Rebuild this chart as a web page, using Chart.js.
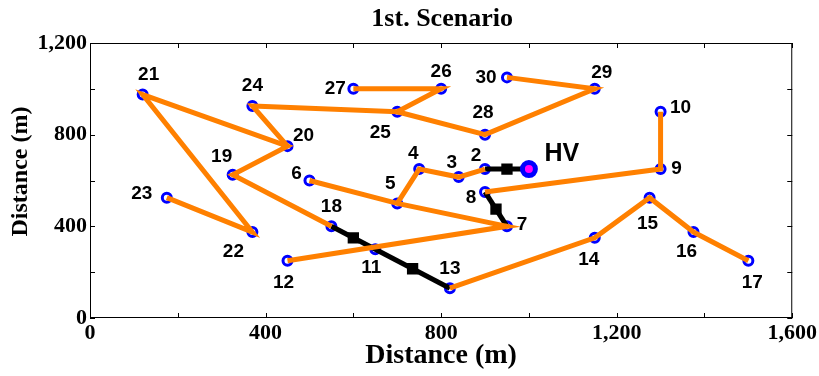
<!DOCTYPE html>
<html><head><meta charset="utf-8">
<script src="https://cdn.jsdelivr.net/npm/chart.js@4.4.0/dist/chart.umd.min.js"></script>
<style>html,body{margin:0;padding:0;background:#fff}canvas{display:block}</style>
</head><body>
<canvas id="c" width="819" height="376"></canvas>
<script>
// ---- data ----
const nodeNames = ['HV','2','3','4','5','6','7','8','9','10','11','12','13','14','15','16','17','18','19','20','21','22','23','24','25','26','27','28','29','30'];
const nodeX = [1000,900,840,750,700,500,950,900,1300,1300,650,450,820,1150,1275,1375,1500,550,325,450,120,370,175,370,700,800,600,900,1150,950];
const nodeY = [650,650,615,650,500,600,400,550,650,900,300,250,130,350,525,375,250,400,625,750,975,375,525,925,900,1000,1000,800,1000,1050];
const orangeRoutes = [
  ['2','3','4','5'],
  ['6','5','7','12'],
  ['8','9','10'],
  ['13','14','15','16','17'],
  ['18','19','20','21','22','23'],
  ['20','24','25','26','27'],
  ['25','28','29','30']
];
const blackRoutes = [['HV','2'],['8','7'],['18','11','13']];
const squareX = [950,925,600,735];
const squareY = [650,475,350,215];
const xTickLabels = [0,400,800,1200,1600];
const yTickLabels = [0,400,800,1200];
const titleText = '1st. Scenario';
const xTitle = 'Distance (m)';
const yTitle = 'Distance (m)';

// ---- label placement (px offsets from marker) ----
const labelOffset = {
  'HV':[33,-15],'2':[-9,-13],'3':[-7,-14],'4':[-6,-15],'5':[-7,-20],'6':[-13,-7],'7':[15,-2],'8':[-14,6],
  '9':[16,0],'10':[20,-4],'11':[-4,19],'12':[-4,22],'13':[0,-19],'14':[-6,22],'15':[-2,26],'16':[-7,20],
  '17':[4,22],'18':[0,-20],'19':[-11,-18],'20':[16,-10],'21':[6,-20],'22':[-19,20],'23':[-25,-4],'24':[0,-20],
  '25':[-17,21],'26':[0,-17],'27':[-18,0],'28':[-2,-22],'29':[7,-16],'30':[-21,0]
};

const pt = n => { const i = nodeNames.indexOf(n); return {x: nodeX[i], y: nodeY[i]}; };
const ORANGE = 'rgb(255,128,0)';
const BLUE = 'rgb(0,0,255)';
const datasets = [];
orangeRoutes.forEach(r => datasets.push({data: r.map(pt), showLine: true, borderColor: ORANGE, borderWidth: 5, pointRadius: 0, order: 2}));
blackRoutes.forEach(r => datasets.push({data: r.map(pt), showLine: true, borderColor: '#000', borderWidth: 5, pointRadius: 0, order: 3}));
datasets.push({data: squareX.map((x,i)=>({x, y: squareY[i]})), pointStyle: 'rect', pointRadius: 8, backgroundColor: '#000', borderColor: '#000', borderWidth: 0, order: 1});
datasets.push({data: nodeNames.slice(1).map(pt), pointRadius: 4.5, borderWidth: 3, borderColor: BLUE, backgroundColor: '#fff', order: 4});
datasets.push({data: [pt('HV')], pointRadius: 6.5, borderWidth: 5, borderColor: BLUE, backgroundColor: 'rgb(255,0,255)', order: 0});

const serif = 'Liberation Serif, Times New Roman, serif';
const sans = 'Liberation Sans, Arial, sans-serif';

const decor = {
  id: 'decor',
  afterDraw(chart) {
    const {ctx, chartArea: a, scales: {x, y}} = chart;
    ctx.save();
    ctx.strokeStyle = '#000'; ctx.lineWidth = 1;
    ctx.strokeRect(a.left + 0.5, a.top + 0.5, a.right - a.left - 1, a.bottom - a.top - 1);
    ctx.beginPath();
    x.ticks.forEach(t => { const p = Math.round(x.getPixelForValue(t.value)) + 0.5;
      ctx.moveTo(p, a.bottom); ctx.lineTo(p, a.bottom - 5); ctx.moveTo(p, a.top); ctx.lineTo(p, a.top + 5); });
    y.ticks.forEach(t => { const p = Math.round(y.getPixelForValue(t.value)) + 0.5;
      ctx.moveTo(a.left, p); ctx.lineTo(a.left + 5, p); ctx.moveTo(a.right, p); ctx.lineTo(a.right - 5, p); });
    ctx.stroke();
    // node labels
    ctx.fillStyle = '#000'; ctx.textAlign = 'center'; ctx.textBaseline = 'middle';
    nodeNames.forEach((n, i) => {
      const px = x.getPixelForValue(nodeX[i]), py = y.getPixelForValue(nodeY[i]);
      const o = labelOffset[n];
      ctx.font = (n === 'HV' ? 'bold 25px ' : 'bold 19px ') + sans;
      ctx.fillText(n, px + o[0], py + o[1]);
    });
    // title
    ctx.font = 'bold 26px ' + serif;
    ctx.fillText(titleText, (a.left + a.right) / 2 + 1, 19);
    // y title
    ctx.save();
    ctx.translate(21, (a.top + a.bottom) / 2 - 9);
    ctx.rotate(-Math.PI / 2);
    ctx.font = 'bold 24px ' + serif;
    ctx.fillText(yTitle, 0, 0);
    ctx.restore();
    ctx.restore();
  }
};

new Chart(document.getElementById('c'), {
  type: 'scatter',
  data: {datasets},
  options: {
    responsive: false, animation: false, devicePixelRatio: 1,
    layout: {padding: {top: 43, left: 0, right: 24, bottom: 0}},
    plugins: {legend: {display: false}, tooltip: {enabled: false}, title: {display: false}},
    scales: {
      x: {
        type: 'linear', min: 0, max: 1600,
        grid: {display: false, drawTicks: false}, border: {display: false},
        ticks: {stepSize: 200, autoSkip: false, maxRotation: 0, padding: 2, color: '#000',
          font: {family: serif, weight: 'bold', size: 22},
          callback: v => xTickLabels.includes(v) ? v.toLocaleString('en-US') : ''},
        title: {display: true, text: xTitle, color: '#000', font: {family: serif, weight: 'bold', size: 28}, padding: {top: 0, bottom: 3}},
        afterFit: s => { s.height = 58; }
      },
      y: {
        type: 'linear', min: 0, max: 1200,
        grid: {display: false, drawTicks: false}, border: {display: false},
        ticks: {stepSize: 200, autoSkip: false, padding: 3, color: '#000',
          font: {family: serif, weight: 'bold', size: 22},
          callback: v => yTickLabels.includes(v) ? v.toLocaleString('en-US') : ''},
        afterFit: s => { s.width = 90; }
      }
    }
  },
  plugins: [decor]
});
</script>
</body></html>
